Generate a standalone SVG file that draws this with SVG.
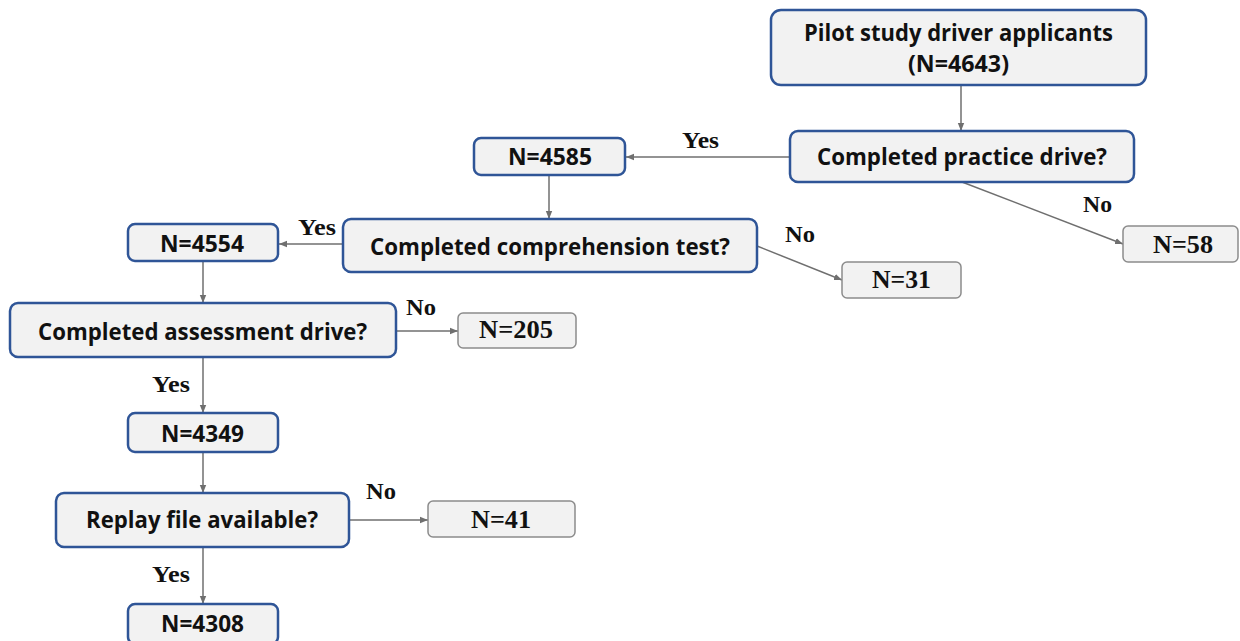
<svg xmlns="http://www.w3.org/2000/svg" width="1240" height="641" viewBox="0 0 1240 641">
<defs>
<marker id="arr" markerUnits="userSpaceOnUse" markerWidth="8" markerHeight="8" viewBox="0 0 8 8" refX="8" refY="4" orient="auto">
<path d="M0,0.8 L8,4 L0,7.2 Z" fill="#6f6f6f"/>
</marker>
<style>
.q{fill:#f2f2f2;stroke:#2f5597;stroke-width:2.5}
.g{fill:#f2f2f2;stroke:#8c8c8c;stroke-width:1.5}
.t{font-family:"Open Sans","Noto Sans",sans-serif;font-weight:bold;font-size:23.5px;fill:#111;text-anchor:middle}
.s{font-family:"Liberation Serif","DejaVu Serif",serif;font-weight:bold;font-size:25px;fill:#111;text-anchor:middle}
.l{font-family:"Liberation Serif","DejaVu Serif",serif;font-weight:bold;font-size:24px;fill:#111}
.c{fill:none;stroke:#6f6f6f;stroke-width:1.5;marker-end:url(#arr)}
</style>
</defs>
<rect width="1240" height="641" fill="#ffffff"/>
<g id="connectors">
<line class="c" x1="961" y1="85" x2="961" y2="131"/>
<line class="c" x1="790" y1="157" x2="626" y2="157"/>
<line class="c" x1="962" y1="182" x2="1123" y2="244"/>
<line class="c" x1="549" y1="175" x2="549" y2="219"/>
<line class="c" x1="343" y1="244" x2="279" y2="244"/>
<line class="c" x1="757" y1="246" x2="842" y2="280"/>
<line class="c" x1="203" y1="261" x2="203" y2="303"/>
<line class="c" x1="396" y1="331" x2="458" y2="331"/>
<line class="c" x1="203" y1="357" x2="203" y2="413"/>
<line class="c" x1="203" y1="452" x2="203" y2="493"/>
<line class="c" x1="349" y1="520" x2="428" y2="520"/>
<line class="c" x1="203" y1="547" x2="203" y2="604"/>
</g>
<g id="labels">
<text class="l" x="682" y="148" textLength="37" lengthAdjust="spacingAndGlyphs">Yes</text>
<text class="l" x="1083" y="212" textLength="29" lengthAdjust="spacingAndGlyphs">No</text>
<text class="l" x="785" y="242" textLength="30" lengthAdjust="spacingAndGlyphs">No</text>
<text class="l" x="298" y="235" textLength="38" lengthAdjust="spacingAndGlyphs">Yes</text>
<text class="l" x="406" y="315" textLength="30" lengthAdjust="spacingAndGlyphs">No</text>
<text class="l" x="152" y="392" textLength="38" lengthAdjust="spacingAndGlyphs">Yes</text>
<text class="l" x="366" y="499" textLength="30" lengthAdjust="spacingAndGlyphs">No</text>
<text class="l" x="152" y="582" textLength="38" lengthAdjust="spacingAndGlyphs">Yes</text>
</g>
<g id="n-applicants">
<rect class="q" x="771" y="10" width="375" height="75" rx="10"/>
<text class="t" x="958.5" y="41" textLength="309" lengthAdjust="spacingAndGlyphs">Pilot study driver applicants</text>
<text class="t" x="958.5" y="72" textLength="101" lengthAdjust="spacingAndGlyphs">(N=4643)</text>
</g>
<g id="n-practice">
<rect class="q" x="790" y="131" width="344" height="51" rx="8"/>
<text class="t" x="962" y="165" textLength="290" lengthAdjust="spacingAndGlyphs">Completed practice drive?</text>
</g>
<g id="n-58">
<rect class="g" x="1123" y="226" width="115" height="36" rx="5"/>
<text class="s" x="1183" y="253" textLength="60" lengthAdjust="spacingAndGlyphs">N=58</text>
</g>
<g id="n-4585">
<rect class="q" x="474" y="138" width="151" height="37" rx="7"/>
<text class="t" x="550" y="165" textLength="84" lengthAdjust="spacingAndGlyphs">N=4585</text>
</g>
<g id="n-comprehension">
<rect class="q" x="343" y="219" width="414" height="53" rx="8"/>
<text class="t" x="550" y="255" textLength="360" lengthAdjust="spacingAndGlyphs">Completed comprehension test?</text>
</g>
<g id="n-31">
<rect class="g" x="842" y="262" width="119" height="36" rx="5"/>
<text class="s" x="901.5" y="288" textLength="59" lengthAdjust="spacingAndGlyphs">N=31</text>
</g>
<g id="n-4554">
<rect class="q" x="128" y="224" width="150" height="37" rx="7"/>
<text class="t" x="202" y="252" textLength="84" lengthAdjust="spacingAndGlyphs">N=4554</text>
</g>
<g id="n-assessment">
<rect class="q" x="10" y="303" width="386" height="54" rx="8"/>
<text class="t" x="202.5" y="340" textLength="329" lengthAdjust="spacingAndGlyphs">Completed assessment drive?</text>
</g>
<g id="n-205">
<rect class="g" x="458" y="313" width="118" height="35" rx="5"/>
<text class="s" x="516" y="338" textLength="74" lengthAdjust="spacingAndGlyphs">N=205</text>
</g>
<g id="n-4349">
<rect class="q" x="128" y="413" width="150" height="39" rx="7"/>
<text class="t" x="202.5" y="442" textLength="83" lengthAdjust="spacingAndGlyphs">N=4349</text>
</g>
<g id="n-replay">
<rect class="q" x="56" y="493" width="293" height="54" rx="8"/>
<text class="t" x="202" y="528" textLength="232" lengthAdjust="spacingAndGlyphs">Replay file available?</text>
</g>
<g id="n-41">
<rect class="g" x="428" y="501" width="147" height="36" rx="5"/>
<text class="s" x="501" y="528" textLength="60" lengthAdjust="spacingAndGlyphs">N=41</text>
</g>
<g id="n-4308">
<rect class="q" x="128" y="604" width="150" height="40" rx="7"/>
<text class="t" x="202.5" y="632" textLength="83" lengthAdjust="spacingAndGlyphs">N=4308</text>
</g>
</svg>
